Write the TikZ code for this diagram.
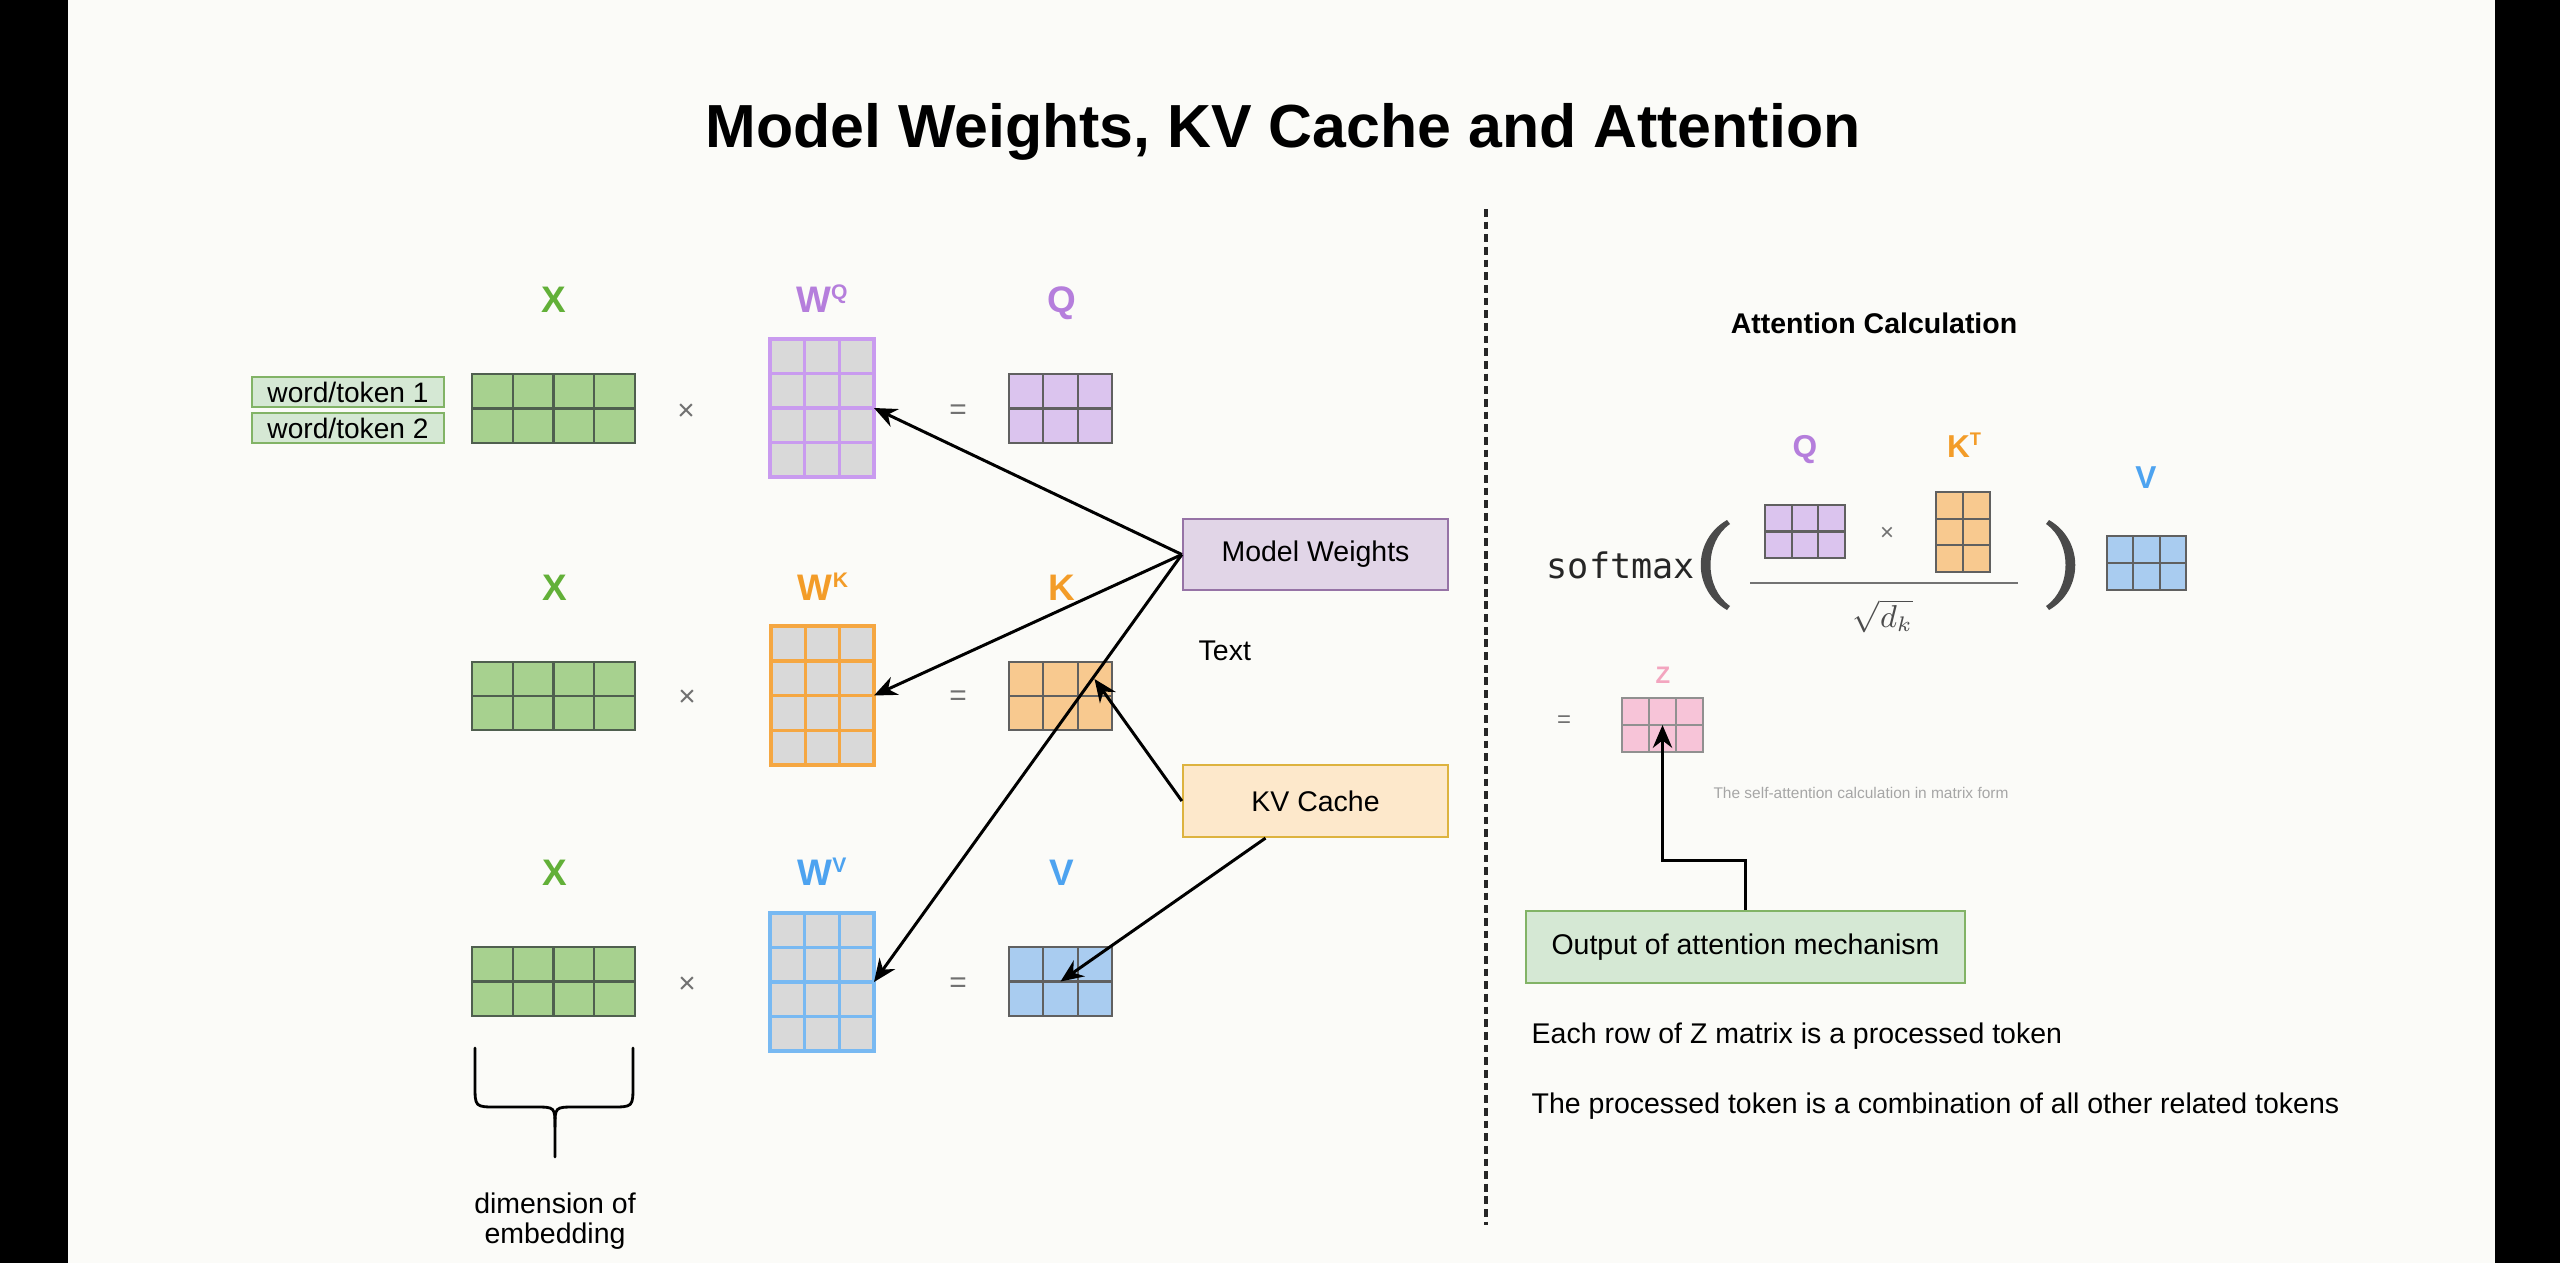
\documentclass[tikz,border=0pt]{standalone}
\usepackage{fontspec}
\setmainfont{Liberation Sans}
\newfontfamily\monofnt{DejaVu Sans Mono}
\usetikzlibrary{arrows.meta,calc,fit}
\definecolor{bgc}{HTML}{FBFBF8}
\definecolor{xlab}{HTML}{62B038}
\definecolor{xfill}{HTML}{A7D18F}
\definecolor{xline}{HTML}{4F5F4F}
\definecolor{plab}{HTML}{B57EDC}
\definecolor{pline}{HTML}{C99BEF}
\definecolor{pfill}{HTML}{DBC4EE}
\definecolor{olab}{HTML}{F39C28}
\definecolor{oline}{HTML}{F5A742}
\definecolor{ofill}{HTML}{F8C98F}
\definecolor{blab}{HTML}{4DA3F0}
\definecolor{bline}{HTML}{78B9F2}
\definecolor{bfill}{HTML}{A9CCF0}
\definecolor{zlab}{HTML}{F3A5BF}
\definecolor{zfill}{HTML}{F7C4D8}
\definecolor{wfill}{HTML}{D9D9D9}
\definecolor{darkline}{HTML}{606060}
\definecolor{tokf}{HTML}{D5E8D4}
\definecolor{tokd}{HTML}{82B366}
\definecolor{mwf}{HTML}{E1D5E7}
\definecolor{mwd}{HTML}{9673A6}
\definecolor{kvf}{HTML}{FDE8CB}
\definecolor{kvd}{HTML}{DDB33F}
\definecolor{sgnc}{HTML}{707070}
\definecolor{parc}{HTML}{4A4A4A}

\newcommand\gmat[8]{%
  \node[fit={(#2,#3)(#4,#5)}, inner sep=0pt, outer sep=0pt, #8] (#1) {};
  \pgfmathtruncatemacro\gmc{#6-1}\pgfmathtruncatemacro\gmr{#7-1}
  \foreach \i in {1,...,\gmc}{\draw[#8, fill=none] ($(#1.north west)!{\i/#6}!(#1.north east)$) -- ($(#1.south west)!{\i/#6}!(#1.south east)$);}
  \foreach \j in {1,...,\gmr}{\draw[#8, fill=none] ($(#1.north west)!{\j/#7}!(#1.south west)$) -- ($(#1.north east)!{\j/#7}!(#1.south east)$);}
}

\begin{document}
\begin{tikzpicture}[x=0.01cm,y=-0.01cm,
  xm/.style={fill=xfill, draw=xline, line width=0.6pt},
  wq/.style={fill=wfill, draw=pline, line width=1pt},
  wk/.style={fill=wfill, draw=oline, line width=1pt},
  wv/.style={fill=wfill, draw=bline, line width=1pt},
  qm/.style={fill=pfill, draw=darkline, line width=0.6pt},
  km/.style={fill=ofill, draw=darkline, line width=0.6pt},
  vm/.style={fill=bfill, draw=darkline, line width=0.6pt},
  zm/.style={fill=zfill, draw=darkline!70, line width=0.5pt},
  lbl/.style={anchor=base, inner sep=0pt, font=\fontsize{10.5}{11}\selectfont\bfseries},
  slbl/.style={anchor=base, inner sep=0pt, font=\fontsize{9}{9}\selectfont\bfseries},
  sgn/.style={inner sep=0pt, text=sgnc, font=\fontsize{8.5}{8.5}\selectfont},
  txt/.style={inner sep=0pt, font=\fontsize{8.1}{9.6}\selectfont},
  tok/.style={draw=tokd, fill=tokf, line width=0.6pt, minimum width=19.2mm, minimum height=3.0mm, inner sep=0pt, font=\fontsize{8}{8}\selectfont},
  bx/.style={line width=0.6pt, minimum width=26.5mm, inner sep=0pt, font=\fontsize{8.1}{8}\selectfont},
  arr/.style={line width=0.85pt, -{Stealth[length=6.5pt, width=5.5pt]}}
]
\useasboundingbox (0,0) rectangle (2560,1263);
\fill[bgc] (0,0) rectangle (2560,1263);
\fill[black] (0,0) rectangle (68,1263);
\fill[black] (2495,0) rectangle (2560,1263);

% title
\node[anchor=base, inner sep=0pt, font=\fontsize{17.3}{18}\selectfont\bfseries] (title) at (1283,147) {Model Weights, KV Cache and Attention};

% divider
\draw[line width=0.9pt, draw=black!85, dash pattern=on 2.2pt off 1.4pt] (1486,209) -- (1486,1225);

% tokens
\node[tok] (t1) at (348,392) {word/token 1};
\node[tok] (t2) at (348,428) {word/token 2};

% row 1
\gmat{X1}{472}{374}{635}{443}{4}{2}{xm}
\gmat{WQ}{770}{339}{874}{477}{3}{4}{wq}
\gmat{Q}{1009}{374}{1112}{443}{3}{2}{qm}
\node[lbl, text=xlab] (lx1) at (554,312) {X};
\node[lbl, text=plab] (lwq) at (822,312) {W\raisebox{3.6pt}{\fontsize{6}{6}\selectfont Q}};
\node[lbl, text=plab] (lq) at (1062,312) {Q};
\node[sgn] (mul1) at (686,412) {×};
\node[sgn] (eq1) at (958,412) {=};

% row 2
\gmat{X2}{472}{662}{635}{730}{4}{2}{xm}
\gmat{WK}{771}{626}{874}{765}{3}{4}{wk}
\gmat{K}{1009}{662}{1112}{730}{3}{2}{km}
\node[lbl, text=xlab] (lx2) at (555,600) {X};
\node[lbl, text=olab] (lwk) at (823,600) {W\raisebox{3.6pt}{\fontsize{6}{6}\selectfont K}};
\node[lbl, text=olab] (lk) at (1062,600) {K};
\node[sgn] (mul2) at (687,698) {×};
\node[sgn] (eq2) at (958,698) {=};

% row 3
\gmat{X3}{472}{947}{635}{1016}{4}{2}{xm}
\gmat{WV}{770}{913}{874}{1051}{3}{4}{wv}
\gmat{V}{1009}{947}{1112}{1016}{3}{2}{vm}
\node[lbl, text=xlab] (lx3) at (555,885) {X};
\node[lbl, text=blab] (lwv) at (822,885) {W\raisebox{3.6pt}{\fontsize{6}{6}\selectfont V}};
\node[lbl, text=blab] (lv) at (1062,885) {V};
\node[sgn] (mul3) at (687,985) {×};
\node[sgn] (eq3) at (958,985) {=};

% brace
\draw[line width=0.8pt, line cap=round] (475,1048) -- (475,1085) .. controls (475,1107) .. (497,1107) -- (535,1107) .. controls (555,1107) .. (555,1127) -- (555,1157);
\draw[line width=0.8pt, line cap=round] (633,1048) -- (633,1085) .. controls (633,1107) .. (611,1107) -- (575,1107) .. controls (555,1107) .. (555,1127);
\node[txt, anchor=base] (dim1) at (555,1213) {dimension of};
\node[txt, anchor=base] (dim2) at (555,1243) {embedding};

% boxes
\node[bx, fill=mwf, draw=mwd, minimum height=7.1mm] (mw) at (1315.5,554.5) {Model Weights};
\node[txt, anchor=base west] (textlbl) at (1198,660) {Text};
\node[bx, fill=kvf, draw=kvd, minimum height=7.2mm] (kv) at (1315.5,801) {KV Cache};

% arrows
\draw[arr] (mw.west) -- (WQ.east);
\draw[arr] (mw.west) -- (WK.east);
\draw[arr] (mw.west) -- (WV.east);
\draw[arr] (kv.west) -- ($(K.center)+(34,-17)$);
\draw[arr] ($(kv.south)+(-50,0)$) -- (V.center);

% right panel
\node[anchor=base, inner sep=0pt, font=\fontsize{8.1}{9}\selectfont\bfseries] (attc) at (1874,333) {Attention Calculation};
\node[anchor=base west, inner sep=0pt, text=black!85, font=\monofnt\fontsize{10}{10}\selectfont] (smax) at (1546,578) {softmax};
\fill[parc] (1727,520) .. controls (1692,540) and (1692,590) .. (1727,610) -- (1730,606) .. controls (1704,588) and (1704,542) .. (1730,524) -- cycle;
\fill[parc] (2049,520) .. controls (2084,540) and (2084,590) .. (2049,610) -- (2046,606) .. controls (2072,588) and (2072,542) .. (2046,524) -- cycle;
\gmat{rQ}{1765}{505}{1845}{558}{3}{2}{qm}
\gmat{rK}{1936}{492}{1990}{572}{2}{3}{km}
\gmat{rV}{2107}{536}{2186}{590}{3}{2}{vm}
\node[slbl, text=plab] (lrq) at (1805,457) {Q};
\node[slbl, text=olab] (lrk) at (1964,457) {K\raisebox{3.2pt}{\fontsize{5.2}{5}\selectfont T}};
\node[slbl, text=blab] (lrv) at (2146,488) {V};
\node[sgn, font=\fontsize{6.8}{6.8}\selectfont] (mulr) at (1887,534) {×};
\draw[line width=0.8pt, draw=black!55] (1750,583) -- (2018,583);
\node[inner sep=0pt, text=black!70, font=\fontsize{9}{9}\selectfont] (sq) at (1883,616) {$\sqrt{d_k}$};

\node[sgn, font=\fontsize{6.8}{6.8}\selectfont] (eqz) at (1564,722) {=};
\gmat{Z}{1622}{698}{1703}{752}{3}{2}{zm}
\node[anchor=base, inner sep=0pt, text=zlab, font=\fontsize{6.8}{7}\selectfont\bfseries] (lz) at (1663,683) {Z};
\node[inner sep=0pt, text=black!35, font=\fontsize{4.4}{5}\selectfont] (cap) at (1861,793) {The self-attention calculation in matrix form};

\node[bx, fill=tokf, draw=tokd, minimum width=43.9mm, minimum height=7.2mm] (out) at (1745.5,947) {Output of attention mechanism};
\draw[arr] (out.north) -- ++(0,-49) -| (Z.center);

\node[txt, anchor=base west] (note1) at (1531,1043) {Each row of Z matrix is a processed token};
\node[txt, anchor=base west] (note2) at (1531,1113) {The processed token is a combination of all other related tokens};
\end{tikzpicture}
\end{document}
